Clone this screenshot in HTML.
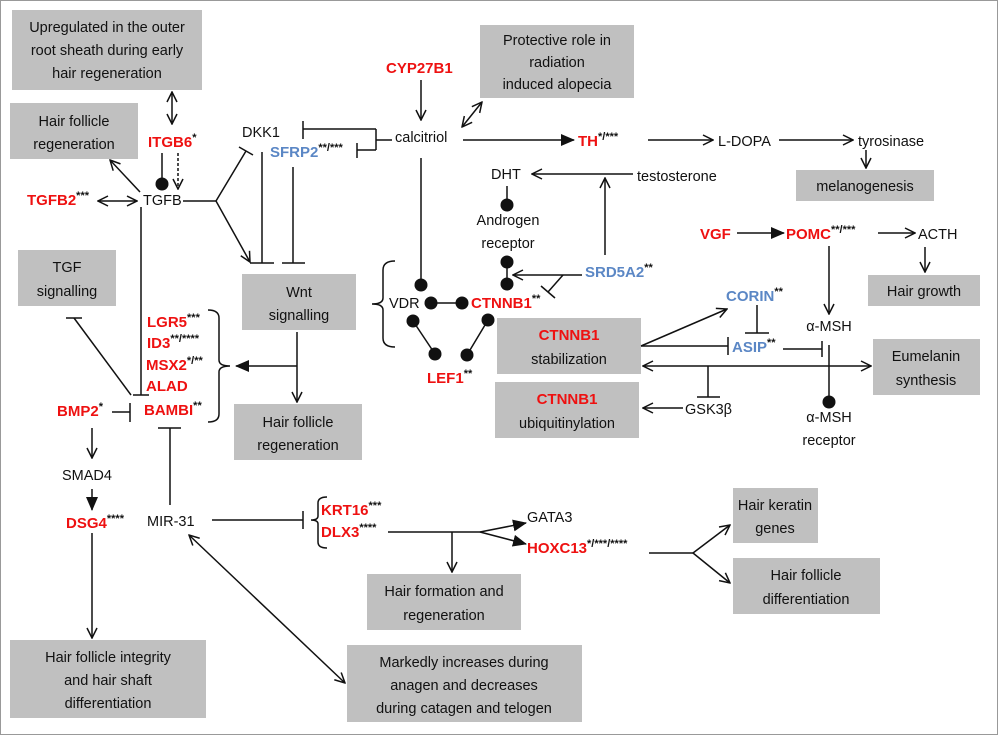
<!DOCTYPE html>
<html><head><meta charset="utf-8"><style>
html,body{margin:0;padding:0;background:#fff}
svg{display:block}
text{font-family:"Liberation Sans",sans-serif;font-size:14.5px;fill:#111}
.r{fill:#ee1111;font-weight:bold;font-size:15px}
.b{fill:#5b87c5;font-weight:bold;font-size:15px}
.s{font-size:11px;font-weight:bold;fill:#111}
.bx{fill:#c0c0c0}
line,path,polyline{stroke:#111;stroke-width:1.5;fill:none}
.d{fill:#111;stroke:none}
</style></head><body>
<svg width="1000" height="735" viewBox="0 0 1000 735" xmlns="http://www.w3.org/2000/svg">
<defs>
<marker id="a" viewBox="0 0 12 12" refX="11" refY="6" markerWidth="12" markerHeight="12" markerUnits="userSpaceOnUse" orient="auto-start-reverse"><path d="M1,1 L11,6 L1,11" style="stroke:#111;stroke-width:1.5;fill:none"/></marker>
<marker id="f" viewBox="0 0 14 12" refX="13" refY="6" markerWidth="14" markerHeight="12" markerUnits="userSpaceOnUse" orient="auto-start-reverse"><path d="M0,0 L14,6 L0,12 Z" style="fill:#111;stroke:none"/></marker>
</defs>
<rect x="0.5" y="0.5" width="997" height="734" fill="none" stroke="#999" stroke-width="1"/>

<rect class="bx" x="12" y="10" width="190" height="80"/>
<text x="107" y="32" text-anchor="middle">Upregulated in the outer</text>
<text x="107" y="55" text-anchor="middle">root sheath during early</text>
<text x="107" y="78" text-anchor="middle">hair regeneration</text>
<rect class="bx" x="10" y="103" width="128" height="56"/>
<text x="74" y="126" text-anchor="middle">Hair follicle</text>
<text x="74" y="149" text-anchor="middle">regeneration</text>
<rect class="bx" x="480" y="25" width="154" height="73"/>
<text x="557" y="45" text-anchor="middle">Protective role in</text>
<text x="557" y="67" text-anchor="middle">radiation</text>
<text x="557" y="89" text-anchor="middle">induced alopecia</text>
<rect class="bx" x="796" y="170" width="138" height="31"/>
<text x="865" y="191" text-anchor="middle">melanogenesis</text>
<rect class="bx" x="18" y="250" width="98" height="56"/>
<text x="67" y="272" text-anchor="middle">TGF</text>
<text x="67" y="296" text-anchor="middle">signalling</text>
<rect class="bx" x="242" y="274" width="114" height="56"/>
<text x="299" y="297" text-anchor="middle">Wnt</text>
<text x="299" y="320" text-anchor="middle">signalling</text>
<rect class="bx" x="234" y="404" width="128" height="56"/>
<text x="298" y="427" text-anchor="middle">Hair follicle</text>
<text x="298" y="450" text-anchor="middle">regeneration</text>
<rect class="bx" x="497" y="318" width="144" height="56"/>
<text x="569" y="340" text-anchor="middle" class="r">CTNNB1</text>
<text x="569" y="364" text-anchor="middle">stabilization</text>
<rect class="bx" x="495" y="382" width="144" height="56"/>
<text x="567" y="404" text-anchor="middle" class="r">CTNNB1</text>
<text x="567" y="428" text-anchor="middle">ubiquitinylation</text>
<rect class="bx" x="868" y="275" width="112" height="31"/>
<text x="924" y="296" text-anchor="middle">Hair growth</text>
<rect class="bx" x="873" y="339" width="107" height="56"/>
<text x="926" y="361" text-anchor="middle">Eumelanin</text>
<text x="926" y="385" text-anchor="middle">synthesis</text>
<rect class="bx" x="367" y="574" width="154" height="56"/>
<text x="444" y="596" text-anchor="middle">Hair formation and</text>
<text x="444" y="620" text-anchor="middle">regeneration</text>
<rect class="bx" x="733" y="488" width="85" height="55"/>
<text x="775" y="510" text-anchor="middle">Hair keratin</text>
<text x="775" y="533" text-anchor="middle">genes</text>
<rect class="bx" x="733" y="558" width="147" height="56"/>
<text x="806" y="580" text-anchor="middle">Hair follicle</text>
<text x="806" y="604" text-anchor="middle">differentiation</text>
<rect class="bx" x="10" y="640" width="196" height="78"/>
<text x="108" y="662" text-anchor="middle">Hair follicle integrity</text>
<text x="108" y="685" text-anchor="middle">and hair shaft</text>
<text x="108" y="708" text-anchor="middle">differentiation</text>
<rect class="bx" x="347" y="645" width="235" height="77"/>
<text x="464" y="667" text-anchor="middle">Markedly increases during</text>
<text x="464" y="690" text-anchor="middle">anagen and decreases</text>
<text x="464" y="713" text-anchor="middle">during catagen and telogen</text>

<text class="r" x="148" y="147">ITGB6<tspan class="s" dy="-6">*</tspan></text>
<text x="143" y="205">TGFB</text>
<text class="r" x="27" y="205">TGFB2<tspan class="s" dy="-6">***</tspan></text>
<text x="242" y="137">DKK1</text>
<text class="b" x="270" y="157">SFRP2<tspan class="s" dy="-6">**/***</tspan></text>
<text x="395" y="142">calcitriol</text>
<text class="r" x="386" y="73">CYP27B1</text>
<text class="r" x="578" y="146">TH<tspan class="s" dy="-6">*/***</tspan></text>
<text x="718" y="146">L-DOPA</text>
<text x="858" y="146">tyrosinase</text>
<text x="491" y="179">DHT</text>
<text x="637" y="181">testosterone</text>
<text x="508" y="225" text-anchor="middle">Androgen</text>
<text x="508" y="248" text-anchor="middle">receptor</text>
<text class="b" x="585" y="277">SRD5A2<tspan class="s" dy="-6">**</tspan></text>
<text x="389" y="308">VDR</text>
<text class="r" x="471" y="308">CTNNB1<tspan class="s" dy="-6">**</tspan></text>
<text class="r" x="427" y="383">LEF1<tspan class="s" dy="-6">**</tspan></text>
<text class="r" x="700" y="239">VGF</text>
<text class="r" x="786" y="239">POMC<tspan class="s" dy="-6">**/***</tspan></text>
<text x="918" y="239">ACTH</text>
<text class="b" x="726" y="301">CORIN<tspan class="s" dy="-6">**</tspan></text>
<text class="b" x="732" y="352">ASIP<tspan class="s" dy="-6">**</tspan></text>
<text x="829" y="331" text-anchor="middle">α-MSH</text>
<text x="829" y="422" text-anchor="middle">α-MSH</text>
<text x="829" y="445" text-anchor="middle">receptor</text>
<text x="685" y="414">GSK3β</text>
<text class="r" x="147" y="327">LGR5<tspan class="s" dy="-6">***</tspan></text>
<text class="r" x="147" y="348">ID3<tspan class="s" dy="-6">**/****</tspan></text>
<text class="r" x="146" y="370">MSX2<tspan class="s" dy="-6">*/**</tspan></text>
<text class="r" x="146" y="391">ALAD</text>
<text class="r" x="144" y="415">BAMBI<tspan class="s" dy="-6">**</tspan></text>
<text class="r" x="57" y="416">BMP2<tspan class="s" dy="-6">*</tspan></text>
<text x="62" y="480">SMAD4</text>
<text class="r" x="66" y="528">DSG4<tspan class="s" dy="-6">****</tspan></text>
<text x="147" y="526">MIR-31</text>
<text class="r" x="321" y="515">KRT16<tspan class="s" dy="-6">***</tspan></text>
<text class="r" x="321" y="537">DLX3<tspan class="s" dy="-6">****</tspan></text>
<text x="527" y="522">GATA3</text>
<text class="r" x="527" y="553">HOXC13<tspan class="s" dy="-6">*/***/****</tspan></text>

<line x1="172" y1="92" x2="172" y2="124" marker-start="url(#a)" marker-end="url(#a)"/>
<line x1="162" y1="153" x2="162" y2="180"/><circle class="d" cx="162" cy="184" r="6.5"/>
<line x1="178" y1="153" x2="178" y2="189" stroke-dasharray="3,2" marker-end="url(#a)"/>
<line x1="140" y1="192" x2="110" y2="160" marker-end="url(#a)"/>
<line x1="98" y1="201" x2="137" y2="201" marker-start="url(#a)" marker-end="url(#a)"/>
<polyline points="183,201 216,201"/>
<line x1="216" y1="201" x2="246" y2="151"/><line x1="239" y1="147" x2="253" y2="155"/>
<line x1="216" y1="201" x2="250" y2="262" marker-end="url(#a)"/>
<line x1="262" y1="152" x2="262" y2="263"/><line x1="250" y1="263" x2="274" y2="263"/>
<line x1="293" y1="167" x2="293" y2="263"/><line x1="282" y1="263" x2="305" y2="263"/>
<polyline points="392,140 376,140"/><line x1="376" y1="129" x2="376" y2="150"/>
<line x1="376" y1="129" x2="303" y2="129"/><line x1="303" y1="121" x2="303" y2="139"/>
<line x1="376" y1="150" x2="357" y2="150"/><line x1="357" y1="143" x2="357" y2="158"/>
<line x1="421" y1="80" x2="421" y2="120" marker-end="url(#a)"/>
<line x1="462" y1="127" x2="482" y2="102" marker-start="url(#a)" marker-end="url(#a)"/>
<line x1="463" y1="140" x2="574" y2="140" marker-end="url(#f)"/>
<line x1="648" y1="140" x2="713" y2="140" marker-end="url(#a)"/>
<line x1="779" y1="140" x2="853" y2="140" marker-end="url(#a)"/>
<line x1="866" y1="150" x2="866" y2="168" marker-end="url(#a)"/>
<line x1="421" y1="158" x2="421" y2="283"/><circle class="d" cx="421" cy="285" r="6.5"/>
<circle class="d" cx="431" cy="303" r="6.5"/><circle class="d" cx="462" cy="303" r="6.5"/><line x1="431" y1="303" x2="462" y2="303"/>
<circle class="d" cx="413" cy="321" r="6.5"/><circle class="d" cx="435" cy="354" r="6.5"/><line x1="413" y1="321" x2="435" y2="354"/>
<circle class="d" cx="488" cy="320" r="6.5"/><circle class="d" cx="467" cy="355" r="6.5"/><line x1="488" y1="320" x2="467" y2="355"/>
<path d="M395,261 Q383,261 383,270 L383,298 Q383,304 372,304 Q383,304 383,310 L383,338 Q383,347 395,347"/>
<line x1="633" y1="174" x2="532" y2="174" marker-end="url(#a)"/>
<line x1="507" y1="186" x2="507" y2="204"/><circle class="d" cx="507" cy="205" r="6.5"/>
<circle class="d" cx="507" cy="262" r="6.5"/><circle class="d" cx="507" cy="284" r="6.5"/><line x1="507" y1="262" x2="507" y2="284"/>
<line x1="582" y1="275" x2="513" y2="275" marker-end="url(#a)"/>
<line x1="563" y1="275" x2="548" y2="292"/><line x1="541" y1="286" x2="555" y2="298"/>
<line x1="605" y1="255" x2="605" y2="178" marker-end="url(#a)"/>
<line x1="737" y1="233" x2="784" y2="233" marker-end="url(#f)"/>
<line x1="878" y1="233" x2="915" y2="233" marker-end="url(#a)"/>
<line x1="925" y1="247" x2="925" y2="272" marker-end="url(#a)"/>
<line x1="829" y1="246" x2="829" y2="314" marker-end="url(#a)"/>
<line x1="641" y1="346" x2="727" y2="309" marker-end="url(#a)"/>
<line x1="757" y1="305" x2="757" y2="333"/><line x1="745" y1="333" x2="769" y2="333"/>
<line x1="641" y1="346" x2="728" y2="346"/><line x1="728" y1="337" x2="728" y2="355"/>
<line x1="783" y1="349" x2="822" y2="349"/><line x1="822" y1="341" x2="822" y2="357"/>
<line x1="829" y1="345" x2="829" y2="398"/><circle class="d" cx="829" cy="402" r="6.5"/>
<line x1="643" y1="366" x2="871" y2="366" marker-start="url(#a)" marker-end="url(#a)"/>
<line x1="708" y1="366" x2="708" y2="397"/><line x1="697" y1="397" x2="720" y2="397"/>
<line x1="683" y1="408" x2="643" y2="408" marker-end="url(#a)"/>
<path d="M208,310 Q219,310 219,318 L219,360 Q219,366 230,366 Q219,366 219,372 L219,414 Q219,422 208,422"/>
<line x1="297" y1="332" x2="297" y2="402" marker-end="url(#a)"/>
<line x1="297" y1="366" x2="236" y2="366" marker-end="url(#f)"/>
<line x1="141" y1="207" x2="141" y2="395"/><line x1="133" y1="395" x2="149" y2="395"/>
<line x1="131" y1="395" x2="74" y2="318"/><line x1="66" y1="318" x2="82" y2="318"/>
<line x1="112" y1="412" x2="130" y2="412"/><line x1="130" y1="403" x2="130" y2="422"/>
<line x1="170" y1="505" x2="170" y2="428"/><line x1="158" y1="428" x2="181" y2="428"/>
<line x1="92" y1="428" x2="92" y2="458" marker-end="url(#a)"/>
<line x1="92" y1="489" x2="92" y2="510" marker-end="url(#f)"/>
<line x1="92" y1="533" x2="92" y2="638" marker-end="url(#a)"/>
<line x1="212" y1="520" x2="303" y2="520"/><line x1="303" y1="511" x2="303" y2="529"/>
<path d="M327,497 Q318,497 318,503 L318,516 Q318,520 311,520 Q318,520 318,524 L318,542 Q318,548 327,548"/>
<line x1="189" y1="535" x2="345" y2="683" marker-start="url(#a)" marker-end="url(#a)"/>
<line x1="388" y1="532" x2="480" y2="532"/>
<line x1="480" y1="532" x2="526" y2="523" marker-end="url(#f)"/>
<line x1="480" y1="532" x2="526" y2="544" marker-end="url(#f)"/>
<line x1="452" y1="532" x2="452" y2="572" marker-end="url(#a)"/>
<line x1="649" y1="553" x2="693" y2="553"/>
<line x1="693" y1="553" x2="730" y2="525" marker-end="url(#a)"/>
<line x1="693" y1="553" x2="730" y2="583" marker-end="url(#a)"/>
</svg>
</body></html>
